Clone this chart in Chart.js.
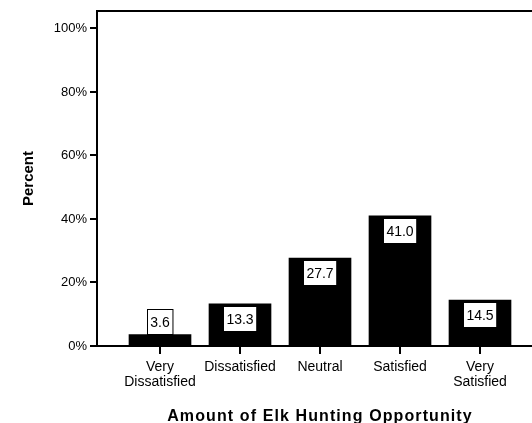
<!DOCTYPE html>
<html>
<head>
<meta charset="utf-8">
<script src="https://cdn.jsdelivr.net/npm/chart.js@4"></script>
<style>
  body { margin: 0; background: #fff; }
  #wrap { width: 532px; height: 423px; position: relative; }
</style>
</head>
<body>
<div id="wrap"><canvas id="myChart"></canvas></div>
<script>
// chart data
const categories = [['Very', 'Dissatisfied'], 'Dissatisfied', 'Neutral', 'Satisfied', ['Very', 'Satisfied']]
const percents = [3.6, 13.3, 27.7, 41.0, 14.5]
const yTicks = [0, 20, 40, 60, 80, 100]
const xTitle = 'Amount of Elk Hunting Opportunity'

Chart.defaults.font.family = '"Liberation Sans", Arial, sans-serif'
Chart.defaults.color = '#000'

// white boxes with the value in them
const valueBoxes = {
    id: 'valueBoxes',
    afterDatasetsDraw(chart){
        const ctx = chart.ctx
        const meta = chart.getDatasetMeta(0)
        ctx.save()
        ctx.font = '14px "Liberation Sans", Arial, sans-serif'
        ctx.textAlign = 'center'
        ctx.textBaseline = 'middle'
        meta.data.forEach((bar, i) => {
            const txt = percents[i].toFixed(1)
            const w = ctx.measureText(txt).width + 6
            const h = 25
            let top = bar.y + 2
            if (bar.base - bar.y < h + 4) top = bar.y - h - 1   // short bar: box sits on top
            const left = Math.round(bar.x - w / 2) + 0.5
            top = Math.round(top) + 0.5
            ctx.fillStyle = '#fff'
            ctx.fillRect(left, top, w, h)
            ctx.strokeStyle = '#000'
            ctx.lineWidth = 1
            ctx.strokeRect(left, top, w, h)
            ctx.fillStyle = '#000'
            ctx.fillText(txt, bar.x, top + h / 2 + 1)
        })
        ctx.restore()
    }
}

// top frame line + x axis title (slightly spaced out like the original)
const frameAndTitle = {
    id: 'frameAndTitle',
    afterDraw(chart){
        const a = chart.chartArea
        const ctx = chart.ctx
        ctx.save()
        ctx.strokeStyle = '#000'
        ctx.lineWidth = 2
        ctx.beginPath()
        ctx.moveTo(a.left - 1, a.top)
        ctx.lineTo(a.right, a.top)
        ctx.stroke()

        const xs = chart.scales.x
        const mid = xs.getPixelForValue((xs.min + (categories.length - 1) - xs.min) / 2 + 0)  // middle category
        ctx.font = 'bold 16px "Liberation Sans", Arial, sans-serif'
        ctx.letterSpacing = '1.1px'
        ctx.textAlign = 'center'
        ctx.textBaseline = 'alphabetic'
        ctx.fillStyle = '#000'
        ctx.fillText(xTitle, mid, chart.height - 2)
        ctx.restore()
    }
}

const ctx = document.getElementById('myChart')
const myChart = new Chart(ctx, {
    type: 'bar',
    data: {
        datasets: [{
            data: percents.map((v, i) => ({ x: i, y: v })),
            backgroundColor: '#000',
            borderWidth: 0,
            barThickness: 62
        }]
    },
    options: {
        responsive: true,
        maintainAspectRatio: false,
        animation: false,
        layout: { padding: { top: 11, right: 0, bottom: 0, left: 0 } },
        plugins: {
            legend: { display: false },
            tooltip: { enabled: false }
        },
        scales: {
            x: {
                type: 'linear',
                offset: false,
                min: -0.7875,
                max: 4.65,
                afterBuildTicks: s => { s.ticks = categories.map((c, i) => ({ value: i })) },
                afterFit: s => { s.height = 77 },
                grid: { offset: false, drawOnChartArea: false, drawTicks: true, tickLength: 8, lineWidth: 2, color: '#000' },
                border: { display: true, color: '#000', width: 2 },
                ticks: {
                    autoSkip: false,
                    maxRotation: 0,
                    padding: 5,
                    font: { size: 14, lineHeight: 1.1 },
                    callback: v => categories[v]
                }
            },
            y: {
                min: 0,
                max: 105.5,
                afterBuildTicks: s => { s.ticks = yTicks.map(v => ({ value: v })) },
                afterFit: s => { s.width = 97 },
                grid: { drawOnChartArea: false, drawTicks: true, tickLength: 7, lineWidth: 2, color: '#000' },
                border: { display: true, color: '#000', width: 2 },
                ticks: {
                    padding: 3,
                    font: { size: 13 },
                    callback: v => v + '%'
                },
                title: {
                    display: true,
                    text: 'Percent',
                    font: { size: 15, weight: 'bold' },
                    padding: { top: 20, bottom: 0 }
                }
            }
        }
    },
    plugins: [valueBoxes, frameAndTitle]
});
</script>
</body>
</html>
